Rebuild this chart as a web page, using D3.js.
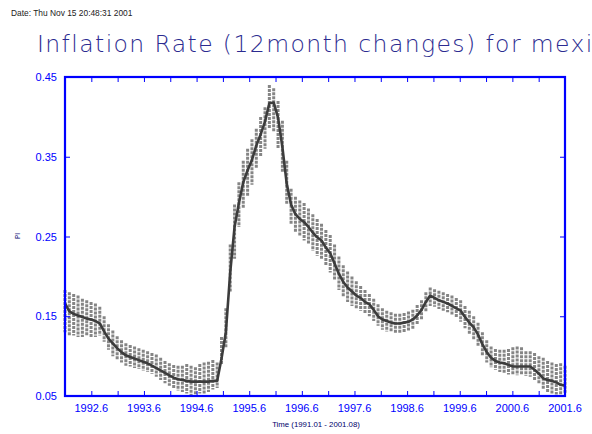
<!DOCTYPE html>
<html>
<head>
<meta charset="utf-8">
<script src="https://cdn.jsdelivr.net/npm/d3@7"></script>
<style>
  body { margin: 0; background: #fff; }
  svg { display: block; }
</style>
</head>
<body>
<div id="chart"></div>
<script>
// monthly log 12-month changes, 1992.01 .. 2001.08
const months = d3.range(0, 116);

const piLine = [
  0.166, 0.156, 0.153, 0.151, 0.149, 0.147, 0.146, 0.144, 0.141, 0.131, 0.122, 0.116,
  0.110, 0.105, 0.101, 0.099, 0.097, 0.095, 0.093, 0.091, 0.088, 0.085, 0.082, 0.079,
  0.076, 0.073, 0.071, 0.070, 0.069, 0.068, 0.068, 0.068, 0.068, 0.068, 0.069, 0.069,
  0.097, 0.130, 0.205, 0.262, 0.292, 0.318, 0.333, 0.346, 0.364, 0.378, 0.394, 0.417,
  0.418, 0.399, 0.362, 0.316, 0.290, 0.278, 0.272, 0.268, 0.262, 0.255, 0.249, 0.245,
  0.236, 0.229, 0.216, 0.203, 0.193, 0.186, 0.181, 0.176, 0.173, 0.168, 0.165, 0.158,
  0.150, 0.146, 0.144, 0.142, 0.141, 0.141, 0.142, 0.143, 0.146, 0.151, 0.158, 0.168,
  0.176, 0.173, 0.170, 0.168, 0.166, 0.163, 0.160, 0.157, 0.149, 0.142, 0.136, 0.127,
  0.115, 0.105, 0.098, 0.094, 0.092, 0.091, 0.089, 0.087, 0.087, 0.087, 0.087, 0.087,
  0.083, 0.078, 0.072, 0.070, 0.069, 0.067, 0.064, 0.063
];

// spread of the simulated draws per month (top / bottom of the square columns)
const drawHigh = [
  0.183, 0.180, 0.178, 0.176, 0.172, 0.170, 0.168, 0.166, 0.162, 0.150, 0.140, 0.132,
  0.125, 0.120, 0.116, 0.114, 0.112, 0.110, 0.108, 0.106, 0.104, 0.102, 0.098, 0.094,
  0.091, 0.089, 0.088, 0.088, 0.090, 0.088, 0.086, 0.090, 0.092, 0.093, 0.095, 0.092,
  0.124, 0.160, 0.240, 0.290, 0.318, 0.345, 0.360, 0.372, 0.385, 0.400, 0.412, 0.440,
  0.436, 0.420, 0.395, 0.345, 0.310, 0.300, 0.295, 0.292, 0.285, 0.278, 0.272, 0.266,
  0.258, 0.252, 0.240, 0.225, 0.214, 0.206, 0.200, 0.194, 0.188, 0.183, 0.178, 0.172,
  0.165, 0.160, 0.157, 0.155, 0.153, 0.153, 0.154, 0.156, 0.158, 0.164, 0.170, 0.180,
  0.186, 0.184, 0.182, 0.180, 0.178, 0.176, 0.173, 0.170, 0.163, 0.157, 0.150, 0.142,
  0.130, 0.120, 0.112, 0.109, 0.108, 0.108, 0.109, 0.111, 0.112, 0.111, 0.106, 0.106,
  0.104, 0.100, 0.098, 0.094, 0.092, 0.090, 0.091, 0.088
];

const drawLow = [
  0.130, 0.126, 0.126, 0.124, 0.124, 0.125, 0.124, 0.124, 0.126, 0.118, 0.108, 0.100,
  0.096, 0.092, 0.088, 0.087, 0.085, 0.084, 0.082, 0.080, 0.078, 0.074, 0.070, 0.066,
  0.063, 0.060, 0.057, 0.055, 0.053, 0.051, 0.051, 0.053, 0.052, 0.055, 0.058, 0.060,
  0.090, 0.110, 0.180, 0.222, 0.262, 0.285, 0.300, 0.315, 0.335, 0.350, 0.360, 0.385,
  0.382, 0.360, 0.330, 0.290, 0.265, 0.255, 0.250, 0.245, 0.240, 0.232, 0.226, 0.222,
  0.214, 0.205, 0.195, 0.183, 0.175, 0.168, 0.163, 0.160, 0.157, 0.153, 0.150, 0.144,
  0.138, 0.133, 0.131, 0.130, 0.129, 0.129, 0.130, 0.131, 0.134, 0.139, 0.146, 0.156,
  0.163, 0.162, 0.159, 0.157, 0.155, 0.152, 0.148, 0.143, 0.135, 0.127, 0.120, 0.112,
  0.100, 0.092, 0.086, 0.083, 0.080, 0.078, 0.077, 0.076, 0.076, 0.077, 0.075, 0.074,
  0.070, 0.065, 0.058, 0.055, 0.053, 0.052, 0.051, 0.053
];

const yTicks = [0.05, 0.15, 0.25, 0.35, 0.45];
const xTicks = [1992.1, 1992.6, 1993.1, 1993.6, 1994.1, 1994.6, 1995.1, 1995.6, 1996.1, 1996.6,
                1997.1, 1997.6, 1998.1, 1998.6, 1999.1, 1999.6, 2000.1, 2000.6, 2001.1, 2001.6];
const xTickLabels = ["1992.6", "1993.6", "1994.6", "1995.6", "1996.6", "1997.6", "1998.6", "1999.6", "2000.6", "2001.6"];

const titleText = "Inflation Rate (12month changes) for mexico";
const dateText = "Date: Thu Nov 15 20:48:31 2001";
const xTitle = "Time (1991.01 - 2001.08)";
const yTitle = "PI";

function renderChart() {
    const width = 592, height = 434;
    const margin = {top: 77, right: 27, bottom: 38, left: 65};
    const blue = "#0000ff";

    const svg = d3.select("#chart").append("svg")
        .attr("width", width)
        .attr("height", height);

    // scales: month index for marks, decimal year for the axis
    const x = d3.scaleLinear().domain([0, 115]).range([margin.left, width - margin.right]);
    const xYear = d3.scaleLinear().domain([1992.1, 2001.6]).range([margin.left, width - margin.right]);
    const y = d3.scaleLinear().domain([0.05, 0.45]).range([height - margin.bottom, margin.top]);

    // header texts
    svg.append("text")
        .attr("x", 11).attr("y", 16)
        .attr("font-family", "Liberation Sans, Arial, sans-serif")
        .attr("font-size", 8.4)
        .attr("fill", "#222")
        .text(dateText);

    // title runs past the right edge, as in the original plot
    svg.append("text")
        .attr("x", 37).attr("y", 52)
        .attr("font-family", "DejaVu Sans, sans-serif")
        .attr("font-weight", 200)
        .attr("font-size", 23.5)
        .attr("letter-spacing", 1.4)
        .attr("fill", "#2b2b90")
        .text(titleText);

    // simulated draws: columns of grey squares
    svg.append("g")
        .selectAll("line")
        .data(months)
        .join("line")
        .attr("x1", d => x(d))
        .attr("x2", d => x(d))
        .attr("y1", d => y(drawHigh[d]))
        .attr("y2", d => y(drawLow[d]))
        .attr("stroke", "#858585")
        .attr("stroke-width", 3)
        .attr("stroke-dasharray", "3,1");

    // actual series
    svg.append("path")
        .datum(months)
        .attr("fill", "none")
        .attr("stroke", "#3c3c3c")
        .attr("stroke-width", 2.6)
        .attr("stroke-linejoin", "round")
        .attr("d", d3.line().x(d => x(d)).y(d => y(piLine[d])));

    // axes: ticks inside on all four sides
    const gx = svg.append("g")
        .attr("transform", `translate(0,${height - margin.bottom})`)
        .call(d3.axisTop(xYear).tickValues(xTicks).tickSize(5).tickFormat(""));
    const gxTop = svg.append("g")
        .attr("transform", `translate(0,${margin.top})`)
        .call(d3.axisBottom(xYear).tickValues(xTicks).tickSize(5).tickFormat(""));
    const gy = svg.append("g")
        .attr("transform", `translate(${margin.left},0)`)
        .call(d3.axisRight(y).tickValues(yTicks).tickSize(5).tickFormat(""));
    const gyRight = svg.append("g")
        .attr("transform", `translate(${width - margin.right},0)`)
        .call(d3.axisLeft(y).tickValues(yTicks).tickSize(5).tickFormat(""));

    [gx, gxTop, gy, gyRight].forEach(g => {
        g.select(".domain").remove();
        g.selectAll(".tick line").attr("stroke", blue).attr("stroke-width", 1);
    });

    // frame
    svg.append("rect")
        .attr("x", margin.left).attr("y", margin.top)
        .attr("width", width - margin.left - margin.right)
        .attr("height", height - margin.top - margin.bottom)
        .attr("fill", "none")
        .attr("stroke", blue)
        .attr("stroke-width", 2.2);

    // tick labels
    svg.append("g")
        .selectAll("text")
        .data(yTicks)
        .join("text")
        .attr("x", margin.left - 8)
        .attr("y", d => y(d) + 4)
        .attr("text-anchor", "end")
        .attr("font-family", "Liberation Sans, Arial, sans-serif")
        .attr("font-size", 11)
        .attr("fill", blue)
        .text(d => d.toFixed(2));

    svg.append("g")
        .selectAll("text")
        .data(xTickLabels)
        .join("text")
        .attr("x", d => xYear(+d))
        .attr("y", height - margin.bottom + 16)
        .attr("text-anchor", "middle")
        .attr("font-family", "Liberation Sans, Arial, sans-serif")
        .attr("font-size", 11)
        .attr("fill", blue)
        .text(d => d);

    // axis titles
    svg.append("text")
        .attr("x", 316).attr("y", 427)
        .attr("text-anchor", "middle")
        .attr("font-family", "Liberation Sans, Arial, sans-serif")
        .attr("font-size", 7.8)
        .attr("fill", "#00006a")
        .text(xTitle);

    svg.append("text")
        .attr("transform", "translate(20,236) rotate(-90)")
        .attr("text-anchor", "middle")
        .attr("font-family", "Liberation Sans, Arial, sans-serif")
        .attr("font-size", 6.5)
        .attr("fill", "#00006a")
        .text(yTitle);
}

renderChart();
</script>
</body>
</html>
